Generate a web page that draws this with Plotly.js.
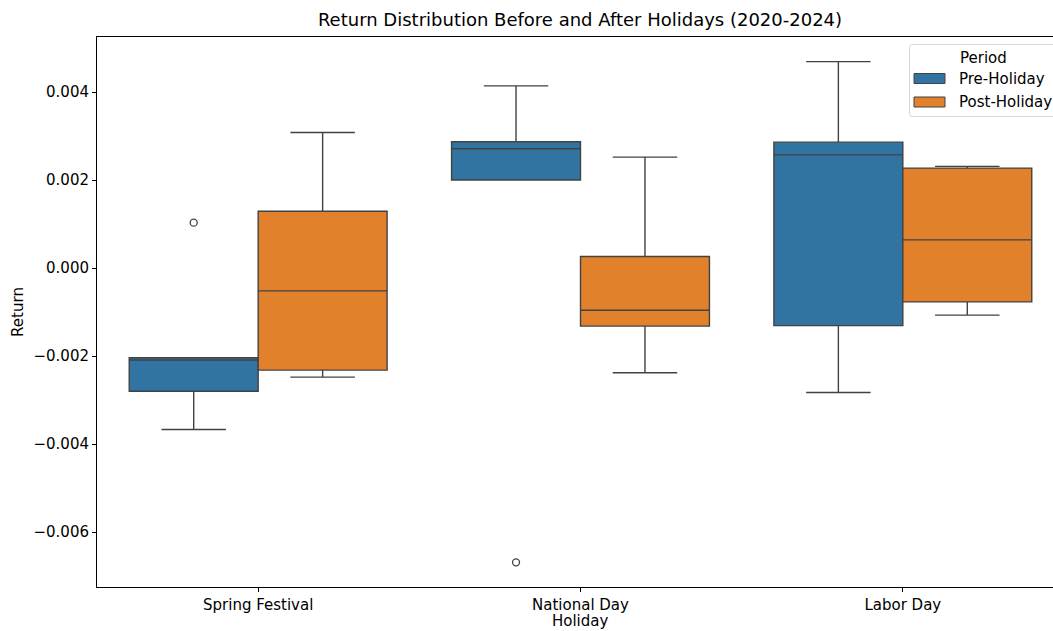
<!DOCTYPE html>
<html>
<head>
<meta charset="utf-8">
<script src="https://cdn.plot.ly/plotly-3.0.1.min.js"></script>
<style>
  html, body { margin: 0; padding: 0; overflow: hidden; background: #fff; }
  #chart { width: 1080px; height: 631px; }
</style>
</head>
<body>
<div id="chart"></div>
<script>
// Categories (holidays)
const categories = ["Spring Festival", "National Day", "Labor Day"];
const periods = ["Pre-Holiday", "Post-Holiday"];
const periodColors = ["#3274a1", "#e1812c"];

// Yearly returns (2020-2024)
const preSpring   = [-0.00367, -0.00280, -0.00209, -0.00204, 0.00103];
const preNational = [-0.00669, 0.00200, 0.00271, 0.00287, 0.00414];
const preLabor    = [-0.00283, -0.00131, 0.00257, 0.00286, 0.00469];

const postSpring   = [-0.00248, -0.00232, -0.00052, 0.00129, 0.00308];
const postNational = [-0.00238, -0.00132, -0.00096, 0.00026, 0.00252];
const postLabor    = [-0.00107, -0.00077, 0.00064, 0.00227, 0.00231];

const preSeries = [preSpring, preNational, preLabor];
const postSeries = [postSpring, postNational, postLabor];

function flatten(series) {
  const x = [], y = [];
  series.forEach((vals, i) => {
    vals.forEach(v => { x.push(categories[i]); y.push(v); });
  });
  return {x, y};
}

const edge = '#424242';
function makeTrace(series, name, color) {
  const d = flatten(series);
  return {
    type: 'box',
    name: name,
    x: d.x,
    y: d.y,
    fillcolor: color,
    line: {color: edge, width: 1.4},
    marker: {symbol: 'circle-open', color: edge, size: 7, line: {width: 1.3, color: edge}},
    boxpoints: 'outliers',
    jitter: 0,
    pointpos: 0,
    whiskerwidth: 0.5,
    quartilemethod: 'inclusive',
    showlegend: false,
    hoverinfo: 'y'
  };
}

const data = [
  makeTrace(preSeries, periods[0], periodColors[0]),
  makeTrace(postSeries, periods[1], periodColors[1])
];

// plot area geometry (pixels)
const PL = 97, PT = 37, PW = 967, PH = 550;
const px = x => (x - PL) / PW;
const py = y => 1 - (y - PT) / PH;

const font = 'DejaVu Sans, sans-serif';
const small = 15;

// Legend drawn to match matplotlib style
function roundRect(x0, y0, x1, y1, r) {
  const rx = r / PW, ry = r / PH;
  const X0 = px(x0), X1 = px(x1), Y0 = py(y0), Y1 = py(y1); // Y0 top, Y1 bottom
  return `M ${X0 + rx} ${Y0} L ${X1 - rx} ${Y0} Q ${X1} ${Y0} ${X1} ${Y0 - ry} ` +
         `L ${X1} ${Y1 + ry} Q ${X1} ${Y1} ${X1 - rx} ${Y1} L ${X0 + rx} ${Y1} ` +
         `Q ${X0} ${Y1} ${X0} ${Y1 + ry} L ${X0} ${Y0 - ry} Q ${X0} ${Y0} ${X0 + rx} ${Y0} Z`;
}

const shapes = [
  {type: 'path', xref: 'paper', yref: 'paper', path: roundRect(909.5, 44.5, 1075, 116.5, 3),
   fillcolor: 'rgba(255,255,255,0.8)', line: {color: '#d6d6d6', width: 1}, layer: 'above'}
];
const annotations = [
  {xref: 'paper', yref: 'paper', x: px(983), y: py(58.5), xanchor: 'center', yanchor: 'middle',
   text: 'Period', showarrow: false, font: {family: font, size: small, color: '#000'}},
  // x-axis title
  {xref: 'paper', yref: 'paper', x: 0.5, y: py(621), xanchor: 'center', yanchor: 'middle',
   text: 'Holiday', showarrow: false, font: {family: font, size: small, color: '#000'}}
];
const legendRows = [78.5, 102];
periods.forEach((p, i) => {
  const yc = legendRows[i];
  shapes.push({type: 'rect', xref: 'paper', yref: 'paper',
    x0: px(914), x1: px(945), y0: py(yc - 5), y1: py(yc + 5),
    fillcolor: periodColors[i], line: {color: edge, width: 1}, layer: 'above'});
  annotations.push({xref: 'paper', yref: 'paper', x: px(957), y: py(yc), xanchor: 'left', yanchor: 'middle',
    text: p, showarrow: false, font: {family: font, size: small, color: '#000'}});
});

const layout = {
  width: 1080,
  height: 631,
  margin: {l: PL, r: 1080 - PL - PW, t: PT, b: 631 - PT - PH},
  paper_bgcolor: '#ffffff',
  plot_bgcolor: '#ffffff',
  font: {family: font, size: small, color: '#000'},
  title: {
    text: 'Return Distribution Before and After Holidays (2020-2024)',
    font: {family: font, size: 18, color: '#000'},
    x: px(580), xanchor: 'center', xref: 'paper',
    y: 1 - 20 / 631, yanchor: 'middle', yref: 'container'
  },
  boxmode: 'group',
  boxgap: 0.2,
  boxgroupgap: 0,
  showlegend: false,
  shapes: shapes,
  annotations: annotations,
  xaxis: {
    type: 'category',
    categoryorder: 'array',
    categoryarray: categories,
    range: [-0.5, 2.5],
    showgrid: false,
    zeroline: false,
    showline: true,
    linecolor: '#000',
    linewidth: 1,
    mirror: true,
    ticks: 'outside',
    ticklen: 4,
    tickcolor: '#000',
    tickfont: {family: font, size: small},
    automargin: false,
    fixedrange: true
  },
  yaxis: {
    range: [-0.00725, 0.00525],
    showgrid: false,
    zeroline: false,
    showline: true,
    linecolor: '#000',
    linewidth: 1,
    mirror: true,
    ticks: 'outside',
    ticklen: 4,
    tickcolor: '#000',
    tickvals: [-0.006, -0.004, -0.002, 0, 0.002, 0.004],
    ticktext: ['\u22120.006', '\u22120.004', '\u22120.002', '0.000', '0.002', '0.004'],
    tickfont: {family: font, size: small},
    title: {text: 'Return', font: {family: font, size: small}, standoff: 6},
    automargin: false,
    fixedrange: true
  }
};

Plotly.newPlot('chart', data, layout, {displayModeBar: false, staticPlot: true});
</script>
</body>
</html>
